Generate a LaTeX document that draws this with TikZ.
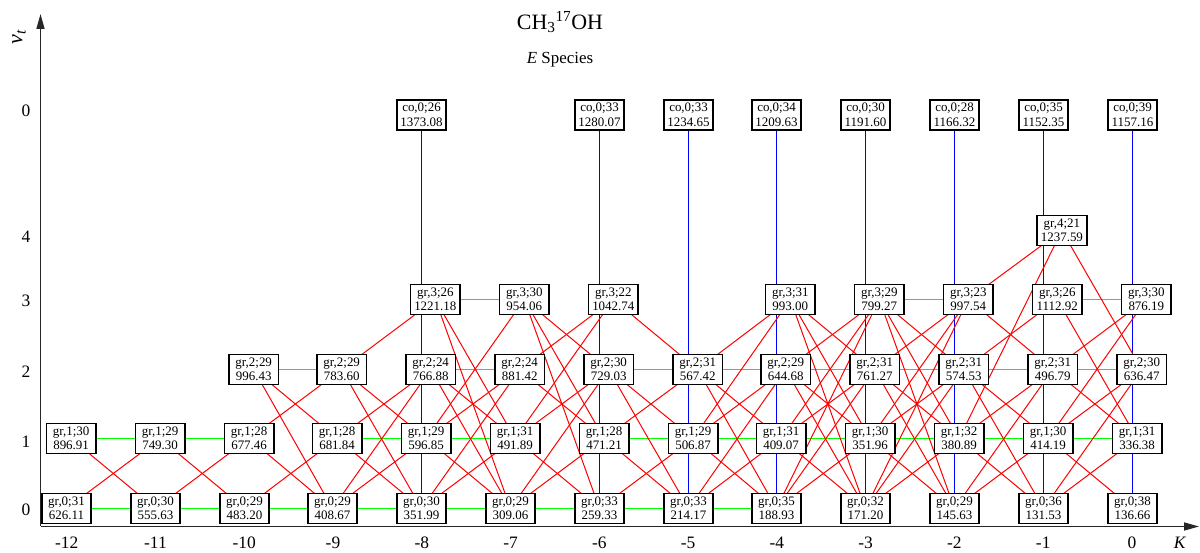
\documentclass[tikz,border=0pt]{standalone}
\usepackage{fontspec}
\setmainfont{Liberation Serif}
\usetikzlibrary{arrows.meta}
\pgfdeclarelayer{sotto}
\pgfsetlayers{sotto,main}

\tikzset{
  livello/.style={draw=black, line width=1.7bp, fill=white, minimum width=49.5bp,
    minimum height=30bp, inner sep=0pt, align=center,
    font=\fontsize{13}{14.5}\selectfont},
  rosso/.style={red, line width=1bp},
  verde/.style={green, line width=1.5bp},
  blu/.style={blue, line width=1.5bp},
  asse/.style={black!85, line width=1.6bp, -{Triangle[length=15bp,width=8bp]}},
  tacca/.style={font=\fontsize{17.5}{19}\selectfont},
}

\newcommand{\stato}[4]{ % #1 = |K|, #2 = v_t, #3 e #4 = etichetta del livello
  \node[livello] (c#1v#2) at ({floor(1132-88.78*#1)+0.5+4.6*#2},{floor(44.5+69.55*#2)+0.5}) {gr,#2;#3\\#4};
}
\newcommand{\costato}[3]{ % #1 = |K|, il box in alto
  \node[livello] (co#1) at ({floor(1132-88.78*#1)+0.5},438) {co,0;#2\\#3};
}
\newcommand{\salti}[3]{ % #1 colonna a sinistra, #2 colonna a destra, #3 coppie v/v'
  \foreach \a/\b in {#3} {
    \draw[rosso] (c#1v\a.center) -- (c#2v\b.center);
  }
}
\newcommand{\piano}[2]{ % #1 = v_t, #2 coppie di colonne
  \foreach \p/\q in {#2} {
    \draw[verde] (c\p v#1) -- (c\q v#1);
  }
}

\begin{document}
\begin{tikzpicture}[x=1bp, y=1bp]
    \useasboundingbox (0,0) rectangle (1200,553);

    % titolo
    \node (titolo) at (560,531) {\fontsize{22}{24}\selectfont CH\textsubscript{3}\textsuperscript{17}OH};
    \node (specie) at (560,493) {\fontsize{17}{19}\selectfont\textit{E} Species};

    % assi
    \coordinate (o) at (40.5,26.5);
    \coordinate (xfine) at (1199,26.5);
    \coordinate (yfine) at (40.5,539);
    \draw[asse] (o) -- (xfine);
    \draw[asse] (o) -- (yfine);
    \node[rotate=90] (vt) at (19,516) {\fontsize{22}{24}\selectfont\textit{v}\textsubscript{\textit{t}}};
    \node[tacca] (kappa) at (1180,10) {\textit{K}};
    \foreach \k in {0,...,12} {
        \node[tacca] (tk\k) at ({1132-88.78*\k},10) {\ifnum\k=0 0\else -\k\fi};
    }
    \foreach \v/\y in {0/43,1/111,2/181,3/252,4/316} {
        \node[tacca] (tv\v) at (26,\y) {\v};
    }
    \node[tacca] (tco) at (26,442) {0};

    % livelli
    \stato{12}{1}{30}{896.91}
    \stato{12}{0}{31}{626.11}
    \stato{11}{1}{29}{749.30}
    \stato{11}{0}{30}{555.63}
    \stato{10}{2}{29}{996.43}
    \stato{10}{1}{28}{677.46}
    \stato{10}{0}{29}{483.20}
    \stato{9}{2}{29}{783.60}
    \stato{9}{1}{28}{681.84}
    \stato{9}{0}{29}{408.67}
    \stato{8}{3}{26}{1221.18}
    \stato{8}{2}{24}{766.88}
    \stato{8}{1}{29}{596.85}
    \stato{8}{0}{30}{351.99}
    \stato{7}{3}{30}{954.06}
    \stato{7}{2}{24}{881.42}
    \stato{7}{1}{31}{491.89}
    \stato{7}{0}{29}{309.06}
    \stato{6}{3}{22}{1042.74}
    \stato{6}{2}{30}{729.03}
    \stato{6}{1}{28}{471.21}
    \stato{6}{0}{33}{259.33}
    \stato{5}{2}{31}{567.42}
    \stato{5}{1}{29}{506.87}
    \stato{5}{0}{33}{214.17}
    \stato{4}{3}{31}{993.00}
    \stato{4}{2}{29}{644.68}
    \stato{4}{1}{31}{409.07}
    \stato{4}{0}{35}{188.93}
    \stato{3}{3}{29}{799.27}
    \stato{3}{2}{31}{761.27}
    \stato{3}{1}{30}{351.96}
    \stato{3}{0}{32}{171.20}
    \stato{2}{3}{23}{997.54}
    \stato{2}{2}{31}{574.53}
    \stato{2}{1}{32}{380.89}
    \stato{2}{0}{29}{145.63}
    \stato{1}{4}{21}{1237.59}
    \stato{1}{3}{26}{1112.92}
    \stato{1}{2}{31}{496.79}
    \stato{1}{1}{30}{414.19}
    \stato{1}{0}{36}{131.53}
    \stato{0}{3}{30}{876.19}
    \stato{0}{2}{30}{636.47}
    \stato{0}{1}{31}{336.38}
    \stato{0}{0}{38}{136.66}

    \costato{8}{26}{1373.08}
    \costato{6}{33}{1280.07}
    \costato{5}{33}{1234.65}
    \costato{4}{34}{1209.63}
    \costato{3}{30}{1191.60}
    \costato{2}{28}{1166.32}
    \costato{1}{35}{1152.35}
    \costato{0}{39}{1157.16}

    \begin{pgfonlayer}{sotto}
        % colonne blu
        \foreach \c in {8,6,5,4,3,2,1,0} {
            \draw[blu] (co\c.center) -- (c\c v0.center);
        }
        % stesso v_t
        \piano{0}{12/11,11/10,10/9,9/8,8/7,7/6,6/5,5/4}
        \piano{1}{12/11,11/10,9/8,8/7,6/5,5/4,4/3,3/2,2/1,1/0}
        \piano{2}{10/9,8/7,6/5,5/4,4/3,3/2,2/1,1/0}
        \piano{3}{8/7,3/2,1/0}
        % Delta K = 1
        \salti{12}{11}{1/0,0/1}
        \salti{11}{10}{1/0,0/1}
        \salti{10}{9}{2/0,2/1,1/2,1/0,0/1}
        \salti{9}{8}{2/3,2/0,2/1,1/2,0/2,1/0,0/1}
        \salti{8}{7}{3/0,3/1,2/0,2/1,1/0,1/2,1/3,0/1,0/2}
        \salti{7}{6}{3/0,3/1,3/2,2/3,1/3,2/1,1/2,0/2,1/0,0/1}
        \salti{6}{5}{3/2,2/0,2/1,1/2,1/0,0/1}
        \salti{5}{4}{2/3,1/3,2/1,2/0,1/2,0/2,1/0,0/1}
        \salti{4}{3}{3/0,3/1,3/2,2/3,2/1,2/0,1/3,1/2,1/0,0/3,0/2,0/1}
        \salti{3}{2}{3/0,3/1,3/2,2/3,2/1,2/0,1/3,1/2,1/0,0/3,0/2,0/1}
        \salti{2}{1}{3/4,1/4,3/2,2/3,2/1,2/0,1/2,0/2,1/0,0/1}
        \salti{1}{0}{4/2,3/1,2/3,1/3,2/1,1/2,0/2,1/0,0/1}
    \end{pgfonlayer}
\end{tikzpicture}
\end{document}
